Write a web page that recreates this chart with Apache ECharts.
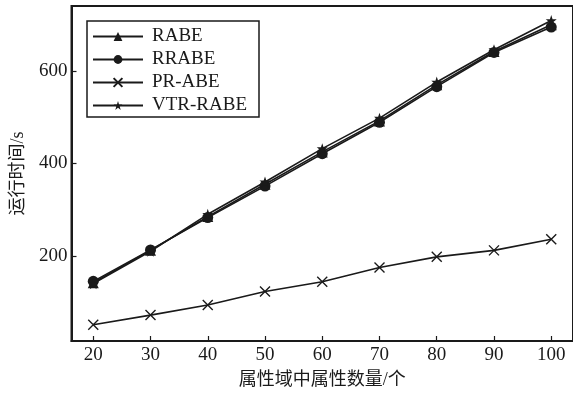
<!DOCTYPE html>
<html>
<head>
<meta charset="utf-8">
<script src="https://cdn.jsdelivr.net/npm/echarts@6/dist/echarts.min.js"></script>
<style>
  html, body { margin: 0; padding: 0; background: #fff; }
  #chart { width: 573px; height: 398px; }
</style>
</head>
<body>
<div id="chart"></div>
<script>
// Attribute counts per domain (x axis)
const attrCounts = [20, 30, 40, 50, 60, 70, 80, 90, 100];

// Running time in seconds for each scheme
const rabe    = [142, 212, 285, 355, 425, 492, 570, 642, 700];
const rrabe   = [145, 213, 283, 351, 421, 489, 566, 640, 695];
const prAbe   = [51, 72, 94, 123, 144, 175, 198, 212, 236];
const vtrRabe = [140, 210, 290, 360, 432, 498, 576, 646, 709];

const seriesNames = ['RABE', 'RRABE', 'PR-ABE', 'VTR-RABE'];
const yTicks = [200, 400, 600];
const xTicks = [20, 30, 40, 50, 60, 70, 80, 90, 100];

const INK = '#1a1a1a';
const SERIF = '"Liberation Serif", "Noto Sans CJK SC", serif';

const crossPath = 'path://M0,0L10,10M10,0L0,10';
const starPath = 'path://M50,0L61.8,35.1L98.9,35.1L68.8,57.4L80.3,92.7L50,70.9L19.7,92.7L31.2,57.4L1.1,35.1L38.2,35.1Z';

function pairs(values) {
  return attrCounts.map((x, i) => [x, values[i]]);
}

function lineSeries(name, values, symbol, size, extraItem) {
  return {
    name: name,
    type: 'line',
    data: pairs(values),
    symbol: symbol,
    symbolSize: size,
    showAllSymbol: true,
    lineStyle: { color: INK, width: 1.6 },
    itemStyle: Object.assign({ color: INK }, extraItem || {}),
    emphasis: { disabled: true },
    animation: false
  };
}

const chart = echarts.init(document.getElementById('chart'), null, { renderer: 'canvas' });

chart.setOption({
  backgroundColor: '#fff',
  animation: false,
  grid: {
    left: 71.5, right: -4, top: 6, bottom: 57,
    show: true, borderColor: INK, borderWidth: 2, backgroundColor: 'transparent'
  },
  legend: {
    data: seriesNames,
    orient: 'vertical',
    left: 87, top: 21,
    itemWidth: 50, itemHeight: 11, itemGap: 4,
    padding: [6, 12, 2, 5],
    borderColor: INK, borderWidth: 1.5,
    backgroundColor: '#fff',
    textStyle: { fontFamily: SERIF, fontSize: 19, color: INK, padding: [0, 0, 0, 4] }
  },
  xAxis: {
    type: 'value',
    min: 16.2, max: 103.8,
    name: '属性域中属性数量/个',
    nameLocation: 'middle',
    nameGap: 30,
    nameTextStyle: { fontFamily: SERIF, fontSize: 18, color: INK },
    axisLine: { show: true, lineStyle: { color: INK, width: 2 } },
    axisTick: { show: true, inside: true, length: 5, lineStyle: { color: INK, width: 1.2 }, customValues: xTicks },
    axisLabel: { fontFamily: SERIF, fontSize: 19, color: INK, margin: 5, customValues: xTicks },
    splitLine: { show: false }
  },
  yAxis: {
    type: 'value',
    min: 16, max: 740.5,
    name: '运行时间/s',
    nameLocation: 'middle',
    nameGap: 44,
    nameTextStyle: { fontFamily: SERIF, fontSize: 18, color: INK },
    axisLine: { show: true, lineStyle: { color: INK, width: 2 } },
    axisTick: { show: true, inside: true, length: 5, lineStyle: { color: INK, width: 1.2 }, customValues: yTicks },
    axisLabel: { fontFamily: SERIF, fontSize: 19, color: INK, margin: 4, customValues: yTicks },
    splitLine: { show: false }
  },
  series: [
    lineSeries('RABE', rabe, 'triangle', 11),
    lineSeries('RRABE', rrabe, 'circle', 11),
    lineSeries('PR-ABE', prAbe, crossPath, 10, { color: INK, borderColor: INK, borderWidth: 1.4 }),
    lineSeries('VTR-RABE', vtrRabe, starPath, 11)
  ]
});
</script>
</body>
</html>
